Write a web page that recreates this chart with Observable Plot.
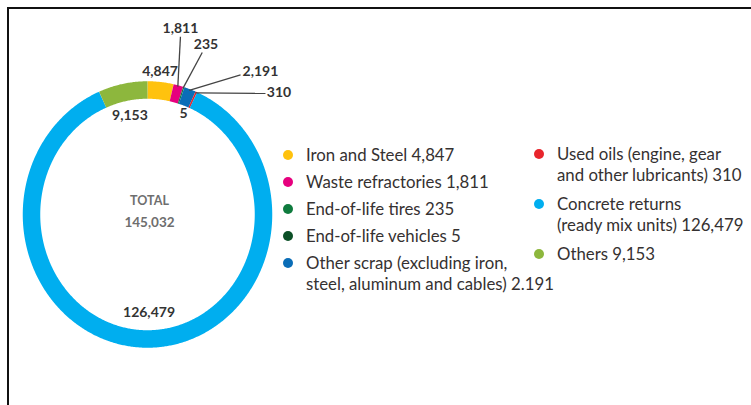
<!DOCTYPE html>
<html>
<head>
<meta charset="utf-8">
<script src="https://cdn.jsdelivr.net/npm/d3@7"></script>
<script src="https://cdn.jsdelivr.net/npm/@observablehq/plot@0.6"></script>
<style>
  html, body { margin: 0; padding: 0; background: #fff; width: 751px; height: 405px; overflow: hidden; }
  #frame { position: absolute; left: 7px; top: 7px; width: 2000px; height: 2000px;
           border-left: 2px solid #111; border-top: 2px solid #111; }
  #chart { position: absolute; left: 0; top: 0; }
  .col { position: absolute; display: flex; flex-direction: column; }
  .item { position: relative; font-family: Lato, "Open Sans", sans-serif; font-size: 16.8px;
          line-height: 21.5px; color: #353131; white-space: pre; }
  .dot { position: absolute; left: -23px; top: 6px; width: 10px; height: 10px; border-radius: 50%; }
</style>
</head>
<body>
<div id="frame"></div>
<div id="chart"></div>
<div id="legend"></div>
<script>
// ---- data ----
const categories = ["Iron and Steel", "Waste refractories", "End-of-life tires", "End-of-life vehicles",
  "Other scrap", "Used oils", "Concrete returns", "Others"];
const values = [4847, 1811, 235, 5, 2191, 310, 126479, 9153];
const colors = ["#FFC20E", "#E6007E", "#0F7B3E", "#0B4F26", "#0A6DB7", "#E8252C", "#00AEEF", "#8DB73D"];
const legendLabels = [
  "Iron and Steel 4,847",
  "Waste refractories 1,811",
  "End-of-life tires 235",
  "End-of-life vehicles 5",
  "Other scrap (excluding iron,\nsteel, aluminum and cables) 2.191",
  "Used oils (engine, gear\nand other lubricants) 310",
  "Concrete returns\n(ready mix units) 126,479",
  "Others 9,153"
];
const totalTitle = "TOTAL";
const totalValue = 145032;

// ---- annotation layout (ring units: 1 = ring centre line) ----
const labelPos = [[0.108, 1.145], [0.284, 1.492], [0.504, 1.363], [0.31, 0.815],
  [0.974, 1.145], [1.134, 0.976], [0.013, -0.79], [-0.151, 0.798]];
const leaderEnd = [null, [0.284, 1.427], [0.472, 1.301], null, [0.802, 1.121], [1.017, 0.973], null, null];

const fmt = d3.format(",");
const total = d3.sum(values);

// arc points for each slice (clockwise from 12 o'clock)
const arcPts = [];
const mids = [];
let cum = 0;
values.forEach((v, i) => {
  const a0 = cum / total * 2 * Math.PI;
  cum += v;
  const a1 = cum / total * 2 * Math.PI;
  mids.push((a0 + a1) / 2);
  const n = Math.max(2, Math.ceil((a1 - a0) / (Math.PI / 360)) + 1);
  for (let k = 0; k < n; k++) {
    const t = a0 + (a1 - a0) * k / (n - 1);
    arcPts.push({cat: categories[i], x: Math.sin(t), y: Math.cos(t)});
  }
});

const labels = values.map((v, i) => ({text: fmt(v), x: labelPos[i][0], y: labelPos[i][1]}));
const leaders = [];
values.forEach((v, i) => {
  if (!leaderEnd[i]) return;
  const r = 1.06;
  leaders.push({x1: Math.sin(mids[i]) * r, y1: Math.cos(mids[i]) * r, x2: leaderEnd[i][0], y2: leaderEnd[i][1]});
});

const cx = 147, cy = 214, rx = 116, ry = 124.5;
const chart = Plot.plot({
  width: 751, height: 405, margin: 0,
  style: {background: "transparent", overflow: "visible"},
  x: {domain: [-1, 1], range: [cx - rx, cx + rx], axis: null},
  y: {domain: [-1, 1], range: [cy + ry, cy - ry], axis: null},
  color: {type: "ordinal", domain: categories, range: colors},
  marks: [
    Plot.line(arcPts, {x: "x", y: "y", z: "cat", stroke: "cat", strokeWidth: 17.5, strokeLinecap: "butt", strokeLinejoin: "round"}),
    Plot.link(leaders, {x1: "x1", y1: "y1", x2: "x2", y2: "y2", stroke: "#444", strokeWidth: 1.3}),
    Plot.text(labels, {x: "x", y: "y", text: "text", fontWeight: "bold", fontSize: 14, fill: "#333",
      fontFamily: "Lato, 'Open Sans', sans-serif"}),
    Plot.text([totalTitle], {x: () => 0, y: () => 0, text: d => d, dy: -14, dx: 2, fontWeight: "bold", fontSize: 12.5,
      fill: "#6e6e6e", fontFamily: "Lato, 'Open Sans', sans-serif"}),
    Plot.text([totalValue], {x: () => 0, y: () => 0, text: d => fmt(d), dy: 8, dx: 2, fontWeight: "bold", fontSize: 13.5,
      fill: "#6e6e6e", fontFamily: "Lato, 'Open Sans', sans-serif"})
  ]
});
document.getElementById("chart").appendChild(chart);

// ---- legend ----
const legend = document.getElementById("legend");
const cols = [
  {items: [0, 1, 2, 3, 4], left: 306, top: 143.5, gap: 5.5},
  {items: [5, 6, 7], left: 557, top: 142.5, gap: 7}
];
cols.forEach(c => {
  const col = document.createElement("div");
  col.className = "col";
  col.style.left = c.left + "px";
  col.style.top = c.top + "px";
  col.style.gap = c.gap + "px";
  c.items.forEach(i => {
    const it = document.createElement("div");
    it.className = "item";
    it.textContent = legendLabels[i];
    const dot = document.createElement("span");
    dot.className = "dot";
    dot.style.background = colors[i];
    it.appendChild(dot);
    col.appendChild(it);
  });
  legend.appendChild(col);
});
</script>
</body>
</html>
